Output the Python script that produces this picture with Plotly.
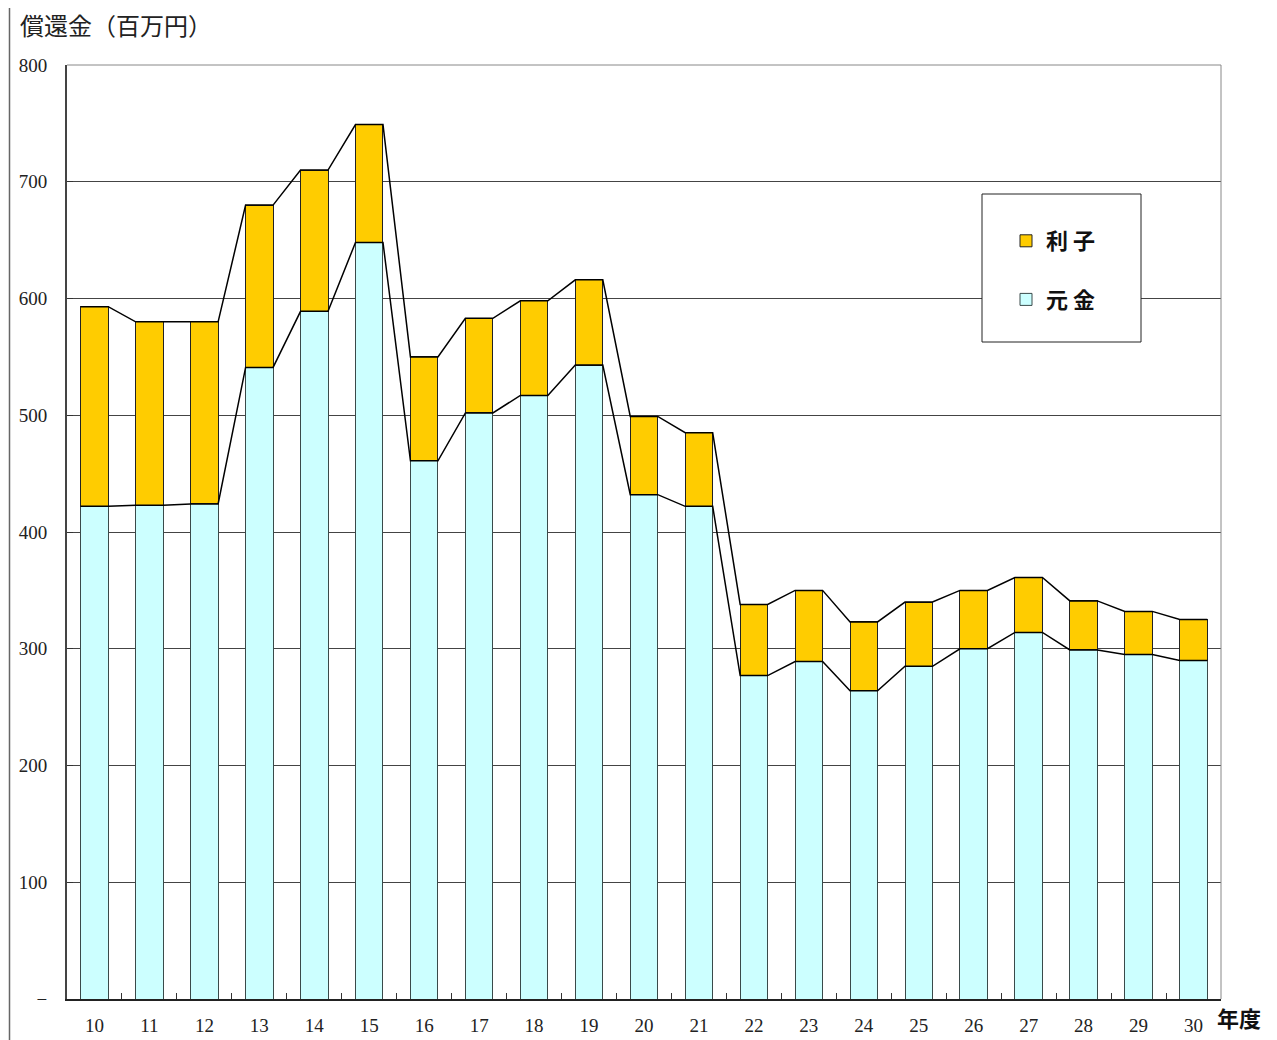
import plotly.graph_objects as go

years = ["10", "11", "12", "13", "14", "15", "16", "17", "18", "19", "20",
         "21", "22", "23", "24", "25", "26", "27", "28", "29", "30"]
principal = [422, 423, 424, 541, 589, 648, 461, 502, 517, 543, 432,
             422, 277, 289, 264, 285, 300, 314, 299, 295, 290]
interest = [171, 157, 156, 139, 121, 101, 89, 81, 81, 73, 67,
            63, 61, 61, 59, 55, 50, 47, 42, 37, 35]
y_ticks = [0, 100, 200, 300, 400, 500, 600, 700, 800]
y_tick_labels = ["−", "100", "200", "300", "400", "500", "600", "700", "800"]

OFF = 8  # page body margin
W, H = 1277 - OFF, 1040 - OFF
L, R, T, B = 67 - OFF, 56, 65 - OFF, 41
PW, PH = W - L - R, H - T - B


def px(x):
    return (x - OFF - L) / PW


def py(y):
    return (H - B - (y - OFF)) / PH


BAR_W = 0.5
fig = go.Figure()
fig.add_trace(go.Bar(x=years, y=principal, name="元 金", legendgroup="a", legendrank=2,
                     marker=dict(color="#CCFFFF", line=dict(color="#3a4a4a", width=1)),
                     width=BAR_W))
fig.add_trace(go.Bar(x=years, y=interest, name="利 子", legendgroup="b", legendrank=1,
                     marker=dict(color="#FFCC00", line=dict(color="#222222", width=1)),
                     width=BAR_W))

# series lines connecting bar tops
totals = [p + i for p, i in zip(principal, interest)]
for series in (principal, totals):
    xs, ys = [], []
    for k, v in enumerate(series):
        xs += [k - BAR_W / 2, k + BAR_W / 2]
        ys += [v, v]
    fig.add_trace(go.Scatter(x=xs, y=ys, mode="lines", xaxis="x2", showlegend=False,
                             line=dict(color="black", width=1.5), hoverinfo="skip"))

fig.update_layout(
    width=W, height=H,
    margin=dict(l=L, r=R, t=T, b=B, autoexpand=False),
    barmode="stack",
    plot_bgcolor="white", paper_bgcolor="white",
    xaxis=dict(type="category", tickson="boundaries", ticks="inside", ticklen=6,
               tickcolor="#333", showline=True, linecolor="#222", linewidth=2,
               showgrid=False, automargin=False,
               tickfont=dict(family="Liberation Serif", size=19, color="#222"),
               ticklabelstandoff=8, range=[-0.5, 20.5]),
    xaxis2=dict(overlaying="x", range=[-0.5, 20.5], visible=False, automargin=False),
    yaxis=dict(range=[0, 800], tickvals=y_ticks, ticktext=y_tick_labels,
               ticks="inside", ticklen=6, tickcolor="#333", automargin=False,
               showline=True, linecolor="#444", linewidth=2,
               showgrid=True, gridcolor="#444", gridwidth=1, zeroline=False,
               tickfont=dict(family="Liberation Serif", size=19, color="#222"),
               ticklabelstandoff=14),
    legend=dict(x=px(1006), y=py(220), xanchor="left", yanchor="top",
                bgcolor="rgba(0,0,0,0)", traceorder="grouped",
                tracegroupgap=27,
                font=dict(family="Noto Sans CJK JP", size=22, color="#111", weight="bold")),
    showlegend=True,
)

shapes = [
    dict(type="line", xref="paper", yref="paper", x0=0, x1=1, y0=1, y1=1,
         line=dict(color="#888", width=1)),
    dict(type="line", xref="paper", yref="paper", x0=1, x1=1, y0=0, y1=1,
         line=dict(color="#888", width=1)),
    dict(type="rect", xref="paper", yref="paper", x0=px(982), x1=px(1141),
         y0=py(342), y1=py(194), fillcolor="white", line=dict(color="#222", width=1),
         layer="above"),
    dict(type="line", xref="paper", yref="paper", x0=px(9.5), x1=px(9.5),
         y0=py(1045), y1=py(2), line=dict(color="#666", width=1.5)),
    dict(type="line", xref="paper", yref="paper", x0=px(9.5), x1=px(1285),
         y0=py(2), y1=py(2), line=dict(color="#666", width=1.5)),
]
fig.update_layout(shapes=shapes)

fig.add_annotation(text="償還金（百万円）", xref="paper", yref="paper",
                   x=px(18), y=py(25), xanchor="left", yanchor="middle",
                   showarrow=False,
                   font=dict(family="Noto Sans CJK JP", size=24, color="#222"))
fig.add_annotation(text="<b>年度</b>", xref="paper", yref="paper",
                   x=px(1215), y=py(1017), xanchor="left", yanchor="middle",
                   showarrow=False,
                   font=dict(family="Noto Sans CJK JP", size=22, color="#111"))

fig.write_html("out.html")
